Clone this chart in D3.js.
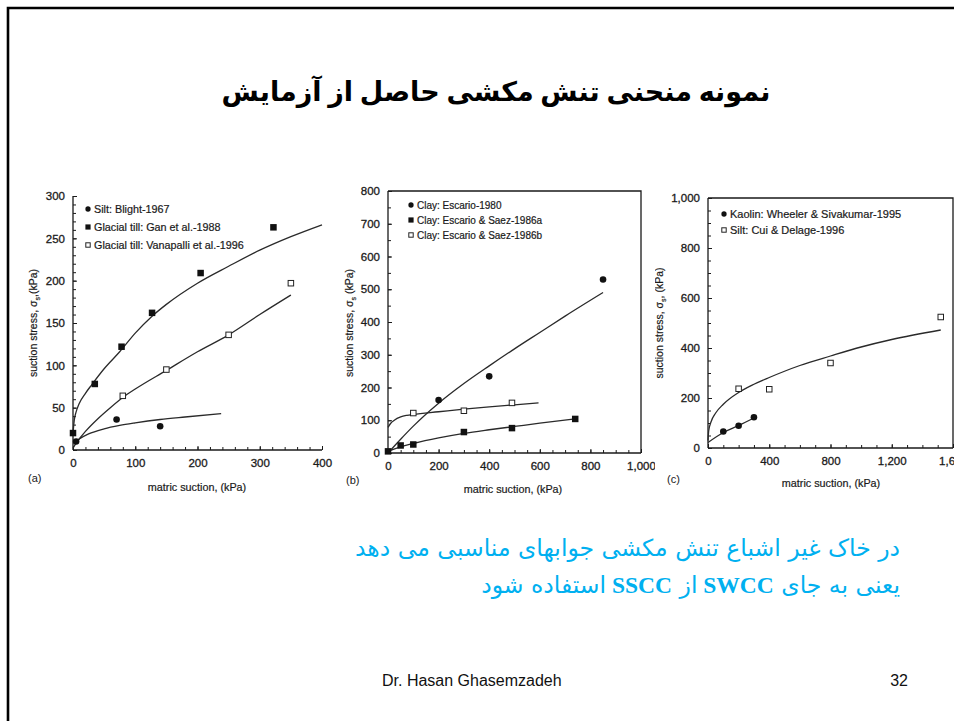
<!DOCTYPE html>
<html>
<head>
<meta charset="utf-8">
<script src="https://cdn.jsdelivr.net/npm/d3@7"></script>
<style>
  body { margin: 0; background: #fff; }
  svg { display: block; font-family: "Liberation Sans", Arial, sans-serif; }
</style>
</head>
<body>
<svg id="slide" width="954" height="721"></svg>
<script>
// ---- panel (a) data: [matric suction kPa, suction stress kPa]
const aBlightPts = [[5, 10], [70, 36], [140, 28]];
const aGanPts = [[0, 20], [35, 78], [78, 122], [127, 162], [205, 209], [322, 263]];
const aVanapalliPts = [[80, 64], [150, 95], [250, 136], [350, 197]];
const aBlightFit = [[2, 8], [10, 13], [25, 19], [50, 25], [75, 29], [100, 32], [140, 36], [180, 39], [238, 43]];
const aGanFit = [[0, 20], [2, 35], [5, 45], [10, 55], [20, 67], [30, 77], [50, 96], [75, 116], [100, 138], [127, 158], [150, 172], [200, 197], [250, 217], [300, 236], [350, 252], [400, 266]];
const aVanapalliFit = [[0, 2], [5, 8], [10, 13], [20, 22], [40, 37], [60, 50], [80, 62], [100, 72], [150, 94], [200, 116], [250, 136], [300, 160], [350, 183]];
const aXTicks = [0, 100, 200, 300, 400];
const aYTicks = [0, 50, 100, 150, 200, 250, 300];

// ---- panel (b) data
const bEscario80Pts = [[200, 162], [400, 234], [850, 530]];
const bSaez86aPts = [[0, 5], [50, 23], [100, 26], [300, 64], [490, 76], [740, 104]];
const bSaez86bPts = [[100, 122], [300, 129], [490, 153]];
const bEscario80Fit = [[0, 0], [50, 42], [100, 82], [200, 152], [300, 212], [400, 266], [500, 318], [600, 368], [700, 418], [850, 490]];
const bSaez86aFit = [[0, 5], [50, 19], [100, 29], [200, 46], [300, 60], [400, 71], [500, 81], [600, 91], [740, 104]];
const bSaez86bFit = [[0, 78], [10, 90], [25, 100], [50, 110], [75, 115], [100, 118], [200, 126], [300, 134], [400, 141], [500, 147], [595, 153]];
const bXTicks = [0, 200, 400, 600, 800, 1000];
const bYTicks = [0, 100, 200, 300, 400, 500, 600, 700, 800];

// ---- panel (c) data
const cKaolinPts = [[100, 66], [200, 89], [300, 123]];
const cCuiPts = [[200, 237], [400, 235], [800, 340], [1520, 524]];
const cKaolinFit = [[0, 22], [100, 62], [200, 90], [300, 120]];
const cCuiFit = [[0, 30], [5, 70], [20, 105], [50, 140], [100, 175], [200, 222], [300, 255], [400, 282], [600, 330], [800, 368], [1000, 404], [1200, 434], [1520, 472]];
const cXTicks = [0, 400, 800, 1200, 1600];
const cYTicks = [0, 200, 400, 600, 800, 1000];

const svg = d3.select("#slide");
const ink = "#1a1a1a";

// slide frame (only top and left edges are in view)
svg.append("path").attr("d", "M8,721 V8 H954").attr("fill", "none").attr("stroke", "#000").attr("stroke-width", 2.6);

const defs = svg.append("defs");

function drawPanel(p) {
  const x = d3.scaleLinear().domain(p.xDomain).range(p.xRange);
  const y = d3.scaleLinear().domain(p.yDomain).range(p.yRange);
  defs.append("clipPath").attr("id", p.id + "-clip")
    .append("rect").attr("x", p.clip[0]).attr("y", 150).attr("width", p.clip[1] - p.clip[0]).attr("height", 380);
  const g = svg.append("g").attr("clip-path", `url(#${p.id}-clip)`);

  const fmt = d3.format(",");
  // axes built with d3 axis, inward ticks
  const xAxis = g.append("g").attr("transform", `translate(0,${p.yRange[0]})`)
    .call(d3.axisBottom(x).tickValues(p.xMinor).tickSize(-3).tickFormat(""));
  const xLab = g.append("g").attr("transform", `translate(0,${p.yRange[0]})`)
    .call(d3.axisBottom(x).tickValues(p.xTicks).tickSize(-4).tickPadding(9).tickFormat(fmt));
  const yAxis = g.append("g").attr("transform", `translate(${p.xRange[0]},0)`)
    .call(d3.axisLeft(y).tickValues(p.yMinor).tickSize(-3).tickFormat(""));
  const yLab = g.append("g").attr("transform", `translate(${p.xRange[0]},0)`)
    .call(d3.axisLeft(y).tickValues(p.yTicks).tickSize(-4).tickPadding(8).tickFormat(fmt));
  [xAxis, xLab, yAxis, yLab].forEach(a => {
    a.selectAll("path").attr("stroke", ink).attr("stroke-width", 1.3);
    a.selectAll("line").attr("stroke", ink).attr("stroke-width", 1);
    a.selectAll("text").attr("fill", ink).attr("stroke", ink).attr("stroke-width", 0.3)
      .style("font-size", "11.5px").style("font-family", "Liberation Sans, Arial, sans-serif");
  });
  xAxis.select(".domain").attr("d", `M${p.xRange[0]},0H${p.xRange[1]}`);
  yAxis.select(".domain").attr("d", `M0,${p.yRange[0]}V${p.yRange[1]}`);
  xLab.select(".domain").remove();
  yLab.select(".domain").remove();

  if (p.box) {
    g.append("path")
      .attr("d", `M${p.xRange[0]},${p.yRange[1]}H${p.xRange[1]}V${p.yRange[0]}`)
      .attr("fill", "none").attr("stroke", ink).attr("stroke-width", 1.3);
  }

  const line = d3.line().x(d => x(d[0])).y(d => y(d[1])).curve(d3.curveMonotoneX);
  p.fits.forEach(f => {
    g.append("path").datum(f).attr("d", line)
      .attr("fill", "none").attr("stroke", "#2a2a2a").attr("stroke-width", 1.3);
  });

  p.series.forEach(s => drawMarks(g, s.pts, s.shape, x, y));

  // legend
  p.legend.forEach((s, i) => {
    const ly = p.legendPos[1] + i * p.legendGap;
    drawMarks(g, [[0, 0]], s.shape, () => p.legendPos[0], () => ly, 0.8);
    g.append("text").attr("x", p.legendPos[0] + 6).attr("y", ly + 3.5)
      .attr("fill", ink).attr("stroke", ink).attr("stroke-width", 0.2)
      .style("font-size", p.legendSize + "px").text(s.label);
  });

  // axis titles
  g.append("text").attr("x", p.xTitle[0]).attr("y", p.xTitle[1]).attr("text-anchor", "middle")
    .attr("fill", ink).attr("stroke", ink).attr("stroke-width", 0.2)
    .style("font-size", "10.8px").text("matric suction, (kPa)");
  const yt = g.append("text").attr("transform", `translate(${p.yTitle[0]},${p.yTitle[1]}) rotate(-90)`)
    .attr("text-anchor", "middle").attr("fill", ink).attr("stroke", ink).attr("stroke-width", 0.2)
    .style("font-size", "10.5px");
  yt.append("tspan").text("suction stress, σ");
  yt.append("tspan").attr("dy", 3).style("font-size", "7px").text("s");
  yt.append("tspan").attr("dy", -3).text(p.yTitleTail);

  g.append("text").attr("x", p.tag[0]).attr("y", p.tag[1]).attr("fill", ink)
    .style("font-size", "11px").text(p.tagText);
}

function drawMarks(g, pts, shape, x, y, scale = 1) {
  pts.forEach(d => {
    const cx = x(d[0]), cy = y(d[1]);
    if (shape === "dot") {
      g.append("circle").attr("cx", cx).attr("cy", cy).attr("r", 3.3 * scale).attr("fill", "#111");
    } else if (shape === "square") {
      const s = 6.5 * scale;
      g.append("rect").attr("x", cx - s / 2).attr("y", cy - s / 2).attr("width", s).attr("height", s).attr("fill", "#111");
    } else {
      const s = 5.5 * scale;
      g.append("rect").attr("x", cx - s / 2).attr("y", cy - s / 2).attr("width", s).attr("height", s)
        .attr("fill", "#fff").attr("stroke", "#222").attr("stroke-width", 1);
    }
  });
}

drawPanel({
  id: "pa", xDomain: [0, 400], xRange: [73, 322], yDomain: [0, 300], yRange: [450, 196],
  clip: [20, 334], box: false,
  xTicks: aXTicks, yTicks: aYTicks, xMinor: d3.range(0, 401, 20), yMinor: d3.range(0, 301, 10),
  fits: [aBlightFit, aGanFit, aVanapalliFit],
  series: [{ pts: aVanapalliPts, shape: "open" }, { pts: aBlightPts, shape: "dot" }, { pts: aGanPts, shape: "square" }],
  legend: [{ shape: "dot", label: "Silt: Blight-1967" }, { shape: "square", label: "Glacial till: Gan et al.-1988" },
           { shape: "open", label: "Glacial till: Vanapalli et al.-1996" }],
  legendPos: [88, 209], legendGap: 18, legendSize: 10.8,
  xTitle: [197, 491], yTitle: [37, 323], yTitleTail: ",(kPa)", tag: [28, 482], tagText: "(a)"
});

drawPanel({
  id: "pb", xDomain: [0, 1000], xRange: [388, 641], yDomain: [0, 800], yRange: [453, 191],
  clip: [336, 655], box: true,
  xTicks: bXTicks, yTicks: bYTicks, xMinor: d3.range(0, 1001, 50), yMinor: d3.range(0, 801, 50),
  fits: [bEscario80Fit, bSaez86aFit, bSaez86bFit],
  series: [{ pts: bSaez86bPts, shape: "open" }, { pts: bEscario80Pts, shape: "dot" }, { pts: bSaez86aPts, shape: "square" }],
  legend: [{ shape: "dot", label: "Clay: Escario-1980" }, { shape: "square", label: "Clay: Escario & Saez-1986a" },
           { shape: "open", label: "Clay: Escario & Saez-1986b" }],
  legendPos: [411, 205], legendGap: 15, legendSize: 10,
  xTitle: [513, 493], yTitle: [353, 323], yTitleTail: " (kPa)", tag: [346, 484], tagText: "(b)"
});

drawPanel({
  id: "pc", xDomain: [0, 1600], xRange: [708, 953], yDomain: [0, 1000], yRange: [448, 198],
  clip: [655, 954], box: true,
  xTicks: cXTicks, yTicks: cYTicks, xMinor: d3.range(0, 1601, 100), yMinor: d3.range(0, 1001, 50),
  fits: [cKaolinFit, cCuiFit],
  series: [{ pts: cCuiPts, shape: "open" }, { pts: cKaolinPts, shape: "dot" }],
  legend: [{ shape: "dot", label: "Kaolin: Wheeler & Sivakumar-1995" }, { shape: "open", label: "Silt: Cui & Delage-1996" }],
  legendPos: [724, 214], legendGap: 16, legendSize: 11,
  xTitle: [831, 487], yTitle: [663, 323], yTitleTail: ", (kPa)", tag: [667, 483], tagText: "(c)"
});

// slide texts
svg.append("text").attr("x", 496).attr("y", 101).attr("text-anchor", "middle")
  .attr("direction", "rtl").style("font-family", "'Liberation Serif', 'DejaVu Serif', 'DejaVu Sans', serif")
  .style("font-weight", "bold").style("font-size", "27px").attr("fill", "#000")
  .text("نمونه منحنی تنش مکشی حاصل از آزمایش");

const blue = "#00b0f0";
svg.append("text").attr("x", 900).attr("y", 556).attr("direction", "rtl").attr("text-anchor", "start")
  .style("font-family", "'DejaVu Sans', sans-serif").style("font-size", "23.5px").attr("fill", blue)
  .text("در خاک غیر اشباع تنش مکشی جوابهای مناسبی می دهد");
const l2 = svg.append("text").attr("x", 900).attr("y", 593).attr("direction", "rtl").attr("text-anchor", "start")
  .style("font-family", "'DejaVu Sans', sans-serif").style("font-size", "23.5px").attr("fill", blue);
l2.append("tspan").text("یعنی به جای ");
l2.append("tspan").style("font-weight", "bold").style("font-family", "'Liberation Serif', serif").text(" SWCC ");
l2.append("tspan").text(" از ");
l2.append("tspan").style("font-weight", "bold").style("font-family", "'Liberation Serif', serif").text(" SSCC ");
l2.append("tspan").text(" استفاده شود");

svg.append("text").attr("x", 382).attr("y", 686).style("font-size", "16px").attr("fill", "#111")
  .text("Dr. Hasan Ghasemzadeh");
svg.append("text").attr("x", 908).attr("y", 686).attr("text-anchor", "end").style("font-size", "16px").attr("fill", "#111")
  .text("32");
</script>
</body>
</html>
